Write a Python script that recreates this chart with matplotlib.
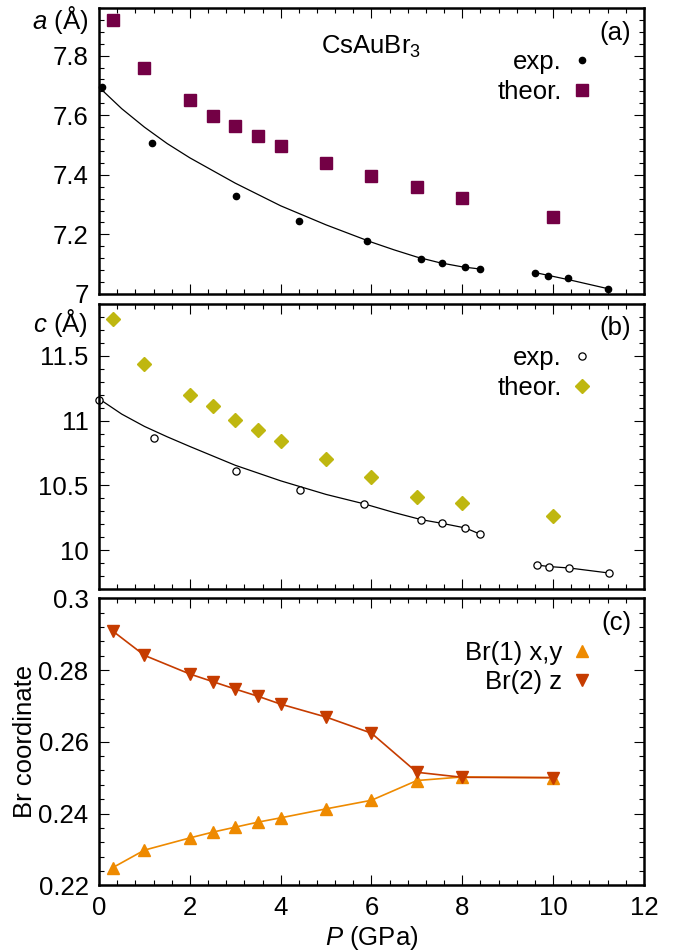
import numpy as np
import matplotlib
matplotlib.use("Agg")
import matplotlib.pyplot as plt
from matplotlib.ticker import MultipleLocator, FuncFormatter

plt.rcParams['font.family'] = ['Liberation Sans', 'DejaVu Sans']
plt.rcParams['mathtext.fontset'] = 'custom'
plt.rcParams['mathtext.rm'] = 'Liberation Sans'
plt.rcParams['mathtext.it'] = 'Liberation Sans:italic'
plt.rcParams['font.size'] = 18.5

# ---- data ----
# panel (a): lattice parameter a
a_exp_p = [0.06, 1.17, 3.01, 4.41, 5.91, 7.08, 7.56, 8.05, 8.38, 9.60, 9.89, 10.33, 11.20]
a_exp = [7.694, 7.508, 7.328, 7.245, 7.177, 7.119, 7.103, 7.090, 7.085, 7.071, 7.061, 7.052, 7.018]
a_th_p = [0.3, 1, 2, 2.5, 3, 3.5, 4, 5, 6, 7, 8, 10]
a_th = [7.920, 7.760, 7.652, 7.598, 7.565, 7.531, 7.498, 7.440, 7.396, 7.358, 7.323, 7.258]
# fitted curves
a_fit1_p = [0, 0.5, 1, 1.5, 2, 3, 4, 5, 6, 6.5, 7, 7.5, 8, 8.38]
a_fit1 = [7.694, 7.622, 7.560, 7.505, 7.457, 7.372, 7.296, 7.232, 7.174, 7.148, 7.124, 7.105, 7.091, 7.084]
a_fit2_p = [9.60, 10.4, 11.20]
a_fit2 = [7.072, 7.046, 7.018]

# panel (b): lattice parameter c
c_exp_p = [0.01, 1.22, 3.02, 4.43, 5.84, 7.10, 7.55, 8.07, 8.38, 9.64, 9.92, 10.36, 11.24]
c_exp = [11.160, 10.867, 10.610, 10.464, 10.357, 10.235, 10.207, 10.171, 10.125, 9.885, 9.873, 9.862, 9.823]
c_th_p = [0.3, 1, 2, 2.5, 3, 3.5, 4, 5, 6, 7, 8, 10]
c_th = [11.786, 11.440, 11.195, 11.110, 11.008, 10.924, 10.842, 10.700, 10.568, 10.410, 10.363, 10.260]
c_fit1_p = [0, 0.5, 1, 1.5, 2, 3, 4, 5, 5.84, 6.5, 7.1, 7.55, 8.07, 8.38]
c_fit1 = [11.168, 11.050, 10.955, 10.875, 10.800, 10.655, 10.535, 10.430, 10.357, 10.290, 10.235, 10.207, 10.171, 10.125]
c_fit2_p = [9.64, 9.92, 10.36, 11.24]
c_fit2 = [9.885, 9.873, 9.862, 9.823]

# panel (c): Br coordinates
br_p = [0.3, 1, 2, 2.5, 3, 3.5, 4, 5, 6, 7, 8, 10]
br1_xy = [0.2249, 0.2298, 0.2332, 0.2348, 0.2362, 0.2376, 0.2388, 0.2413, 0.2437, 0.2492, 0.2502, 0.2500]
br2_z = [0.2909, 0.2841, 0.2789, 0.2768, 0.2747, 0.2727, 0.2705, 0.2669, 0.2624, 0.2515, 0.2501, 0.2500]

maroon = '#730045'
olive = '#bfb710'
orange = '#ee8a00'
rust = '#c63c00'

fig = plt.figure(figsize=(6.75, 9.52), dpi=100)
left, width = 0.1467, 0.8073
ax_a = fig.add_axes([left, 0.6912, width, 0.3004])
ax_b = fig.add_axes([left, 0.3813, width, 0.2994])
ax_c = fig.add_axes([left, 0.0701, width, 0.3014])

fmt = FuncFormatter(lambda v, pos: '%g' % round(v, 6))

for ax in (ax_a, ax_b, ax_c):
    ax.set_xlim(0, 12)
    ax.xaxis.set_major_locator(MultipleLocator(2))
    ax.xaxis.set_minor_locator(MultipleLocator(0.4))
    ax.tick_params(which='both', direction='in', top=True, right=True, width=0.8)
    ax.tick_params(which='major', length=7.2, pad=7.5)
    ax.tick_params(which='minor', length=3.8)
    ax.yaxis.set_major_formatter(fmt)
    for s in ax.spines.values():
        s.set_linewidth(1.8)

leg_kw = dict(loc='upper right', bbox_to_anchor=(0.91, 0.853), markerfirst=False,
              frameon=False, borderaxespad=0, borderpad=0, handlelength=1.0,
              handletextpad=0.28, labelspacing=0.23)

# (a)
ax_a.plot(a_fit1_p, a_fit1, color='black', lw=0.9)
ax_a.plot(a_fit2_p, a_fit2, color='black', lw=0.9)
ax_a.plot(a_exp_p, a_exp, 'o', color='black', ms=4.5, label='exp.', clip_on=False)
ax_a.plot(a_th_p, a_th, 's', color=maroon, ms=8.6, label='theor.')
ax_a.set_ylim(7, 7.96)
ax_a.yaxis.set_major_locator(MultipleLocator(0.2))
ax_a.yaxis.set_minor_locator(MultipleLocator(0.04))
ax_a.tick_params(labelbottom=False)
ax_a.legend(**leg_kw)
ax_a.text(-0.02, 0.958, r'$a$ (Å)', transform=ax_a.transAxes, ha='right', va='center')
ax_a.text(0.5, 0.864, r'CsAuBr$_3$', transform=ax_a.transAxes, ha='center', va='center')
ax_a.text(0.977, 0.913, '(a)', transform=ax_a.transAxes, ha='right', va='center')
# bottom "7" sits on its baseline, as in the original
ax_a.yaxis.get_major_ticks()[0].label1.set_va('baseline')

# (b)
ax_b.plot(c_fit1_p, c_fit1, color='black', lw=0.9)
ax_b.plot(c_fit2_p, c_fit2, color='black', lw=0.9)
ax_b.plot(c_exp_p, c_exp, 'o', mfc='white', mec='black', mew=0.9, ms=5.2, label='exp.', clip_on=False)
ax_b.plot(c_th_p, c_th, 'D', color=olive, ms=7, label='theor.')
ax_b.set_ylim(9.7, 11.9)
ax_b.yaxis.set_major_locator(MultipleLocator(0.5))
ax_b.yaxis.set_minor_locator(MultipleLocator(0.1))
ax_b.tick_params(labelbottom=False)
ax_b.legend(**leg_kw)
ax_b.text(-0.02, 0.935, r'$c$ (Å)', transform=ax_b.transAxes, ha='right', va='center')
ax_b.text(0.977, 0.915, '(b)', transform=ax_b.transAxes, ha='right', va='center')

# (c)
ax_c.plot(br_p, br1_xy, '-', color=orange, lw=1.2)
ax_c.plot(br_p, br2_z, '-', color=rust, lw=1.2)
ax_c.plot(br_p, br1_xy, '^', color=orange, ms=8.5, label='Br(1) x,y')
ax_c.plot(br_p, br2_z, 'v', color=rust, ms=8.5, label='Br(2) z')
ax_c.set_ylim(0.22, 0.30)
ax_c.yaxis.set_major_locator(MultipleLocator(0.02))
ax_c.yaxis.set_minor_locator(MultipleLocator(0.004))
ax_c.legend(**leg_kw)
ax_c.set_ylabel('Br coordinate')
ax_c.yaxis.set_label_coords(-0.113, 0.5)
ax_c.set_xlabel(r'$P$ (GPa)', labelpad=3)
ax_c.text(0.977, 0.913, '(c)', transform=ax_c.transAxes, ha='right', va='center')

fig.savefig('out.png', dpi=100)
